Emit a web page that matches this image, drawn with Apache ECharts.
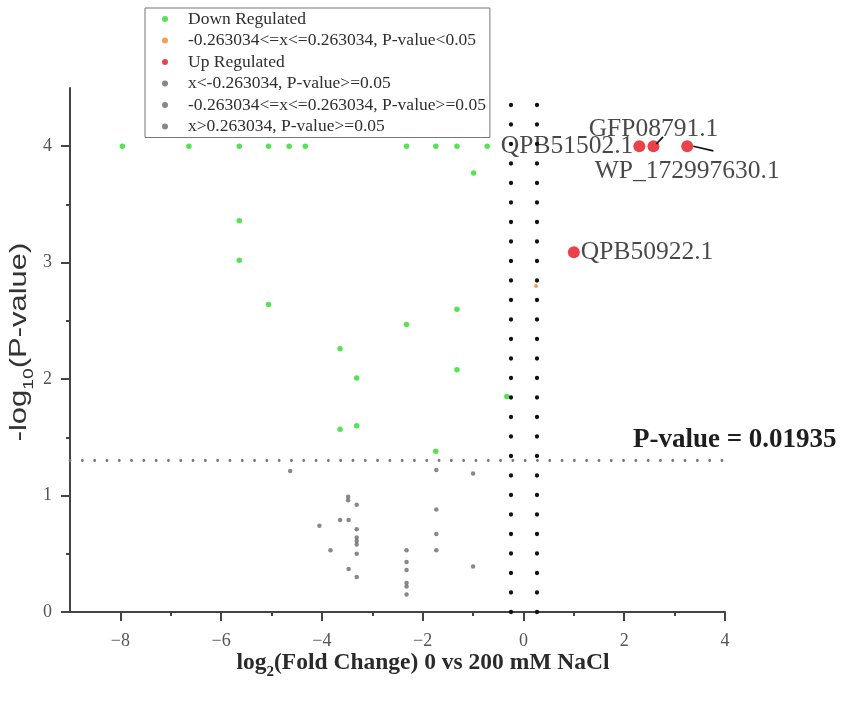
<!DOCTYPE html>
<html>
<head>
<meta charset="utf-8">
<script src="https://cdn.jsdelivr.net/npm/echarts@6/dist/echarts.min.js"></script>
<style>
html,body{margin:0;padding:0;background:#fff;}
#chart{width:851px;height:709px;}
</style>
</head>
<body>
<div id="chart"></div>
<script>
// ---- data ----
const seriesNames = [
  'Down Regulated',
  '-0.263034<=x<=0.263034, P-value<0.05',
  'Up Regulated',
  'x<-0.263034, P-value>=0.05',
  '-0.263034<=x<=0.263034, P-value>=0.05',
  'x>0.263034, P-value>=0.05'
];
const downX = [-7.96,-6.64,-5.64,-5.06,-4.65,-4.33,-2.32,-1.74,-1.32,-0.72,-0.99,-5.64,-5.64,-5.06,-3.64,-3.31,-3.64,-3.31,-2.32,-1.32,-1.32,-1.74,-0.33];
const downY = [4,4,4,4,4,4,4,4,4,4,3.77,3.36,3.02,2.64,2.26,2.01,1.57,1.60,2.47,2.60,2.08,1.38,1.85];
const midSigX = [0.25];
const midSigY = [2.80];
const upX = [2.30, 2.58, 3.25, 1.00];
const upY = [4.00, 4.00, 4.00, 3.09];
const upNames = ['QPB51502.1', 'GFP08791.1', 'WP_172997630.1', 'QPB50922.1'];
const nsLeftX = [-4.63,-1.73,-1.00,-3.48,-3.48,-3.31,-3.64,-3.47,-4.05,-3.31,-3.31,-3.31,-3.31,-3.83,-3.31,-1.73,-1.73,-1.73,-1.00,-3.47,-3.31,-2.32,-2.32,-2.32,-2.32,-2.32,-2.32];
const nsLeftY = [1.21,1.22,1.19,0.99,0.96,0.92,0.79,0.79,0.74,0.71,0.64,0.61,0.58,0.53,0.50,0.88,0.67,0.53,0.39,0.37,0.30,0.53,0.43,0.36,0.25,0.22,0.15];
const nsMidX = [];
const nsMidY = [];
const nsRightX = [];
const nsRightY = [];
const fcThreshold = 0.263034;
const pLine = 1.30103;
const pLabel = 'P-value = 0.01935';
const xMajorTicks = [-8, -6, -4, -2, 0, 2, 4];
const xMinorTicks = [-7, -5, -3, -1, 1, 3];
const yMajorTicks = [0, 1, 2, 3, 4];
const yMinorTicks = [0.5, 1.5, 2.5, 3.5];
// arrows from label to point: [fromX, fromY, toX, toY]
const arrowGFP = [2.77, 4.08, 2.64, 4.02];
const arrowWP = [3.77, 3.96, 3.37, 4.0];

// ---- chart ----
const zip = (xs, ys) => xs.map((x, i) => [x, ys[i]]);
const serif = '"Liberation Serif", "DejaVu Serif", serif';
const sans = '"Liberation Sans", Arial, sans-serif';
const labelPos = {
  'QPB51502.1': {position: 'left', distance: 0},
  'GFP08791.1': {position: 'top', distance: -2},
  'WP_172997630.1': {position: 'bottom', distance: 6},
  'QPB50922.1': {position: 'right', distance: 1}
};
const chart = echarts.init(document.getElementById('chart'), null, {renderer: 'canvas'});

const xAxisBase = {type: 'value', min: -9, max: 4, splitLine: {show: false}};
const yAxisBase = {type: 'value', min: 0, max: 4.5, splitLine: {show: false}};

const option = {
  backgroundColor: '#fff',
  animation: false,
  grid: {left: 70, right: 126, top: 88, bottom: 97},
  legend: {
    orient: 'vertical', left: 145, top: 8,
    data: seriesNames.map(n => ({name: n, icon: 'circle'})),
    itemWidth: 36, itemHeight: 6, itemGap: 3.5,
    padding: [2, 4, 2, 17],
    borderColor: '#777', borderWidth: 1,
    textStyle: {fontFamily: serif, fontSize: 17.5, color: '#2e2e2e', lineHeight: 18}
  },
  xAxis: [
    Object.assign({}, xAxisBase, {
      axisLine: {show: true, onZero: false, lineStyle: {color: '#444', width: 2}},
      axisTick: {show: true, length: 9, customValues: xMajorTicks, lineStyle: {color: '#444', width: 2}},
      axisLabel: {customValues: xMajorTicks, margin: 20, fontFamily: serif, fontSize: 18, color: '#555',
        formatter: v => String(v).replace('-', '\u2212')}
    }),
    Object.assign({}, xAxisBase, {
      position: 'bottom',
      axisLine: {show: false, onZero: false},
      axisTick: {show: true, length: 4, customValues: xMinorTicks, lineStyle: {color: '#444', width: 2}},
      axisLabel: {show: false}
    })
  ],
  yAxis: [
    Object.assign({}, yAxisBase, {
      axisLine: {show: true, onZero: false, lineStyle: {color: '#444', width: 2}},
      axisTick: {show: true, length: 9, customValues: yMajorTicks, lineStyle: {color: '#444', width: 2}},
      axisLabel: {customValues: yMajorTicks, margin: 18, fontFamily: serif, fontSize: 18, color: '#555'}
    }),
    Object.assign({}, yAxisBase, {
      position: 'left',
      axisLine: {show: false, onZero: false},
      axisTick: {show: true, length: 4, customValues: yMinorTicks, lineStyle: {color: '#444', width: 2}},
      axisLabel: {show: false}
    })
  ],
  series: [
    {
      name: seriesNames[0], type: 'scatter', symbolSize: 5.5,
      itemStyle: {color: '#2bdc2b'},
      data: zip(downX, downY), z: 3
    },
    {
      name: seriesNames[1], type: 'scatter', symbolSize: 4,
      itemStyle: {color: '#f08a24'},
      data: zip(midSigX, midSigY), z: 3
    },
    {
      name: seriesNames[2], type: 'scatter', symbolSize: 12,
      itemStyle: {color: '#e3141b'},
      data: upNames.map((n, i) => ({
        name: n, value: [upX[i], upY[i]],
        label: Object.assign({show: true, formatter: '{b}'}, labelPos[n])
      })),
      label: {fontFamily: serif, fontSize: 25.5, color: '#1a1a1a'},
      markLine: {
        silent: true, symbol: ['none', 'arrow'], symbolSize: [0, 9],
        lineStyle: {color: '#111', width: 1.6, type: 'solid'},
        label: {show: false},
        data: [
          [{coord: [arrowGFP[0], arrowGFP[1]]}, {coord: [arrowGFP[2], arrowGFP[3]]}],
          [{coord: [arrowWP[0], arrowWP[1]]}, {coord: [arrowWP[2], arrowWP[3]]}]
        ]
      },
      z: 4
    },
    {
      name: seriesNames[3], type: 'scatter', symbolSize: 4.5,
      itemStyle: {color: '#6a6a6a'},
      data: zip(nsLeftX, nsLeftY), z: 3,
      markLine: {
        silent: true, symbol: 'none',
        label: {show: false},
        data: [
          {xAxis: -fcThreshold, lineStyle: {color: '#111', width: 4.3, type: [0.1, 19.4], cap: 'round'}},
          {xAxis: fcThreshold, lineStyle: {color: '#111', width: 4.3, type: [0.1, 19.4], cap: 'round'}},
          {yAxis: pLine, lineStyle: {color: '#6f7390', width: 2.8, type: [0.1, 12.2], cap: 'round'}}
        ]
      }
    },
    {
      name: seriesNames[4], type: 'scatter', symbolSize: 4.5,
      itemStyle: {color: '#6a6a6a'},
      data: zip(nsMidX, nsMidY)
    },
    {
      name: seriesNames[5], type: 'scatter', symbolSize: 4.5,
      itemStyle: {color: '#6a6a6a'},
      data: zip(nsRightX, nsRightY)
    }
  ],
  graphic: [
    {
      type: 'text', x: 22, y: 342, rotation: Math.PI / 2, scaleX: 1.29,
      style: {
        text: '{a|-log}{s|10}{a|(P-value)}',
        align: 'center', verticalAlign: 'middle',
        rich: {
          a: {fontFamily: sans, fontSize: 24, fill: '#333', padding: [0, 0, 5, 0], verticalAlign: 'bottom'},
          s: {fontFamily: sans, fontSize: 15, fill: '#333', verticalAlign: 'bottom'}
        }
      }
    },
    {
      type: 'text', x: 423, y: 665,
      style: {
        text: '{a|log}{s|2}{a|(Fold Change) 0 vs 200 mM NaCl}',
        align: 'center', verticalAlign: 'middle',
        rich: {
          a: {fontFamily: serif, fontWeight: 'bold', fontSize: 23.5, fill: '#2a2a2a', padding: [0, 0, 5, 0], verticalAlign: 'bottom'},
          s: {fontFamily: serif, fontWeight: 'bold', fontSize: 15, fill: '#2a2a2a', verticalAlign: 'bottom'}
        }
      }
    },
    {
      type: 'text', x: 633, y: 440,
      style: {
        text: pLabel, align: 'left', verticalAlign: 'middle',
        font: 'bold 27px ' + serif, fill: '#1e1e1e'
      }
    }
  ]
};
chart.setOption(option);
</script>
</body>
</html>
